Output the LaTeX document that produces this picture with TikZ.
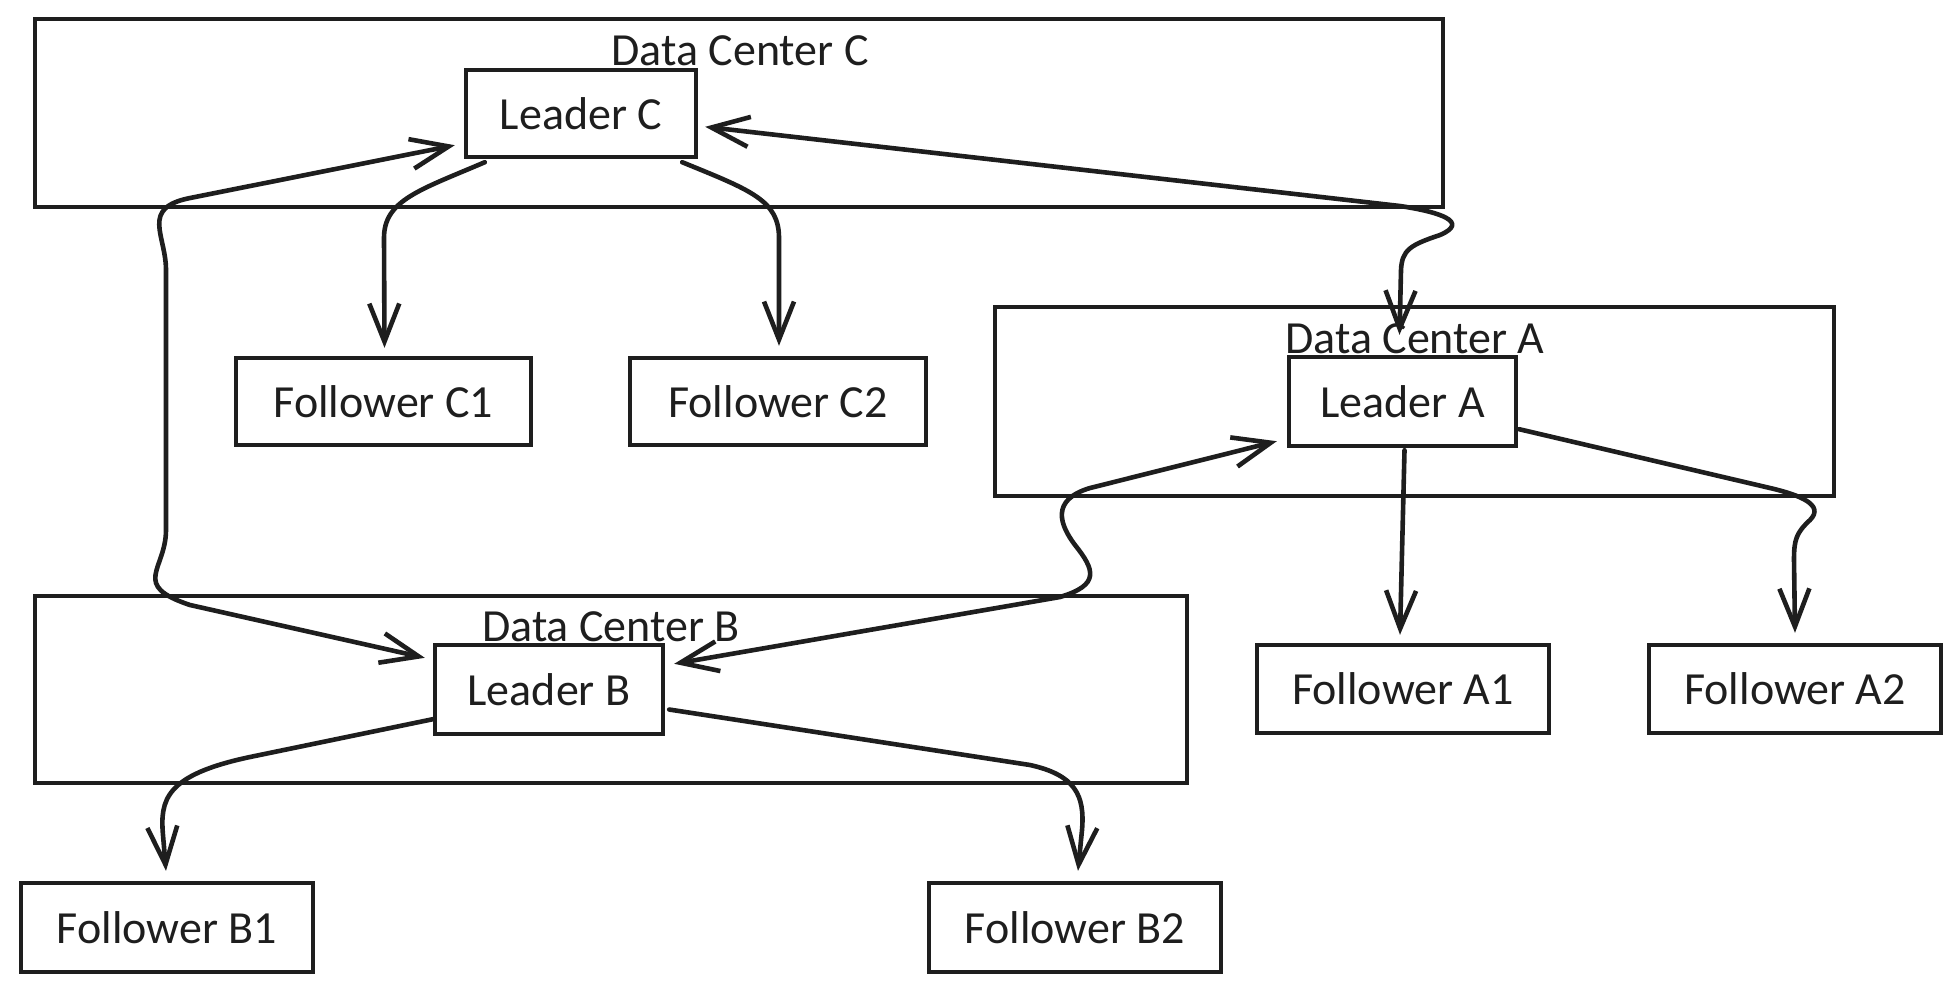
\documentclass[tikz,border=0pt]{standalone}
\usepackage{fontspec}
\setmainfont{Carlito}
\usetikzlibrary{arrows.meta,calc}
\definecolor{ink}{RGB}{30,30,30}
\begin{document}
\begin{tikzpicture}[x=0.5pt,y=-0.5pt,
  every node/.style={font=\fontsize{23pt}{27pt}\selectfont, text=ink},
  box/.style={draw=ink, line width=2.2pt, inner sep=0pt, rectangle},
  arr/.style={draw=ink, line width=2.3pt, line cap=round, line join=round,
    -{Straight Barb[length=19pt,width=15pt]}},
  biarr/.style={draw=ink, line width=2.3pt, line cap=round, line join=round,
    {Straight Barb[length=19pt,width=15pt]}-{Straight Barb[length=19pt,width=15pt]}},
  dclabel/.style={anchor=base, inner sep=0pt}
]
\useasboundingbox (0,0) rectangle (1959,992);

% data centers
\node[box, minimum width=704pt, minimum height=94pt] (dcC) at (739,113) {};
\node[box, minimum width=419.5pt, minimum height=94.5pt] (dcA) at (1414.5,401.5) {};
\node[box, minimum width=576pt, minimum height=93.5pt] (dcB) at (611,689.5) {};
\node[dclabel] (tC) at (740,65) {Data Center C};
\node[dclabel] (tA) at (1415,353) {Data Center A};
\node[dclabel] (tB) at (611,641) {Data Center B};

% leaders and followers
\node[box, minimum width=115pt, minimum height=43.5pt] (lc) at (581,113.5) {Leader C};
\node[box, minimum width=147.5pt, minimum height=43.5pt] (fc1) at (383.5,401.5) {Follower C1};
\node[box, minimum width=148pt, minimum height=43.5pt] (fc2) at (778,401.5) {Follower C2};
\node[box, minimum width=113.5pt, minimum height=44.5pt] (la) at (1402.5,401.5) {Leader A};
\node[box, minimum width=146pt, minimum height=44pt] (fa1) at (1403,689) {Follower A1};
\node[box, minimum width=146pt, minimum height=44pt] (fa2) at (1795,689) {Follower A2};
\node[box, minimum width=114pt, minimum height=44.5pt] (lb) at (549,689.5) {Leader B};
\node[box, minimum width=146pt, minimum height=44.5pt] (fb1) at (167,927.5) {Follower B1};
\node[box, minimum width=146pt, minimum height=44.5pt] (fb2) at (1075,927.5) {Follower B2};

% Leader C to its followers
\draw[arr] ($(lc.south west)+(21,3)$) .. controls (420,190) and (384,200) .. (384,238) -- ($(fc1.north)+(1,-8)$);
\draw[arr] ($(lc.south east)+(-16,3)$) .. controls (750,190) and (779,200) .. (779,238) -- ($(fc2.north)+(1,-10)$);

% Leader C <-> Leader B
\draw[biarr] ($(lc.south west)+(-9,-14)$) -- (190,198) .. controls (140,208) and (166,235) .. (166,270)
  -- (166,530) .. controls (166,570) and (130,585) .. (190,605) -- ($(lb.north west)+(-8,15)$);

% Leader A <-> Leader B
\draw[biarr] ($(la.south west)+(-10,-7)$) -- (1090,488) .. controls (1050,500) and (1060,525) .. (1075,545)
  .. controls (1095,570) and (1100,585) .. (1060,597) -- ($(lb.north east)+(9,21)$);

% Leader C <-> Leader A
\draw[biarr] ($(lc.north east)+(7,59)$) -- (1400,206) .. controls (1440,212) and (1470,222) .. (1440,235)
  .. controls (1410,245) and (1402,250) .. (1401,270) -- ($(la.north)+(-3,-20)$);

% Leader A to its followers
\draw[arr] ($(la.south)+(2,2)$) -- ($(fa1.north)+(-3,-8)$);
\draw[arr] ($(la.south east)+(1,-19)$) -- (1770,488) .. controls (1800,495) and (1825,505) .. (1810,520)
  .. controls (1796,533) and (1794,540) .. (1794,560) -- ($(fa2.north)+(0,-10)$);

% Leader B to its followers
\draw[arr] ($(lb.south west)+(0,-17)$) -- (250,757) .. controls (165,775) and (160,800) .. (163,835) -- ($(fb1.north)+(-1,-10)$);
\draw[arr] ($(lb.east)+(4,20)$) -- (1030,765) .. controls (1075,775) and (1085,795) .. (1082,830) -- ($(fb2.north)+(3,-10)$);
\end{tikzpicture}
\end{document}
